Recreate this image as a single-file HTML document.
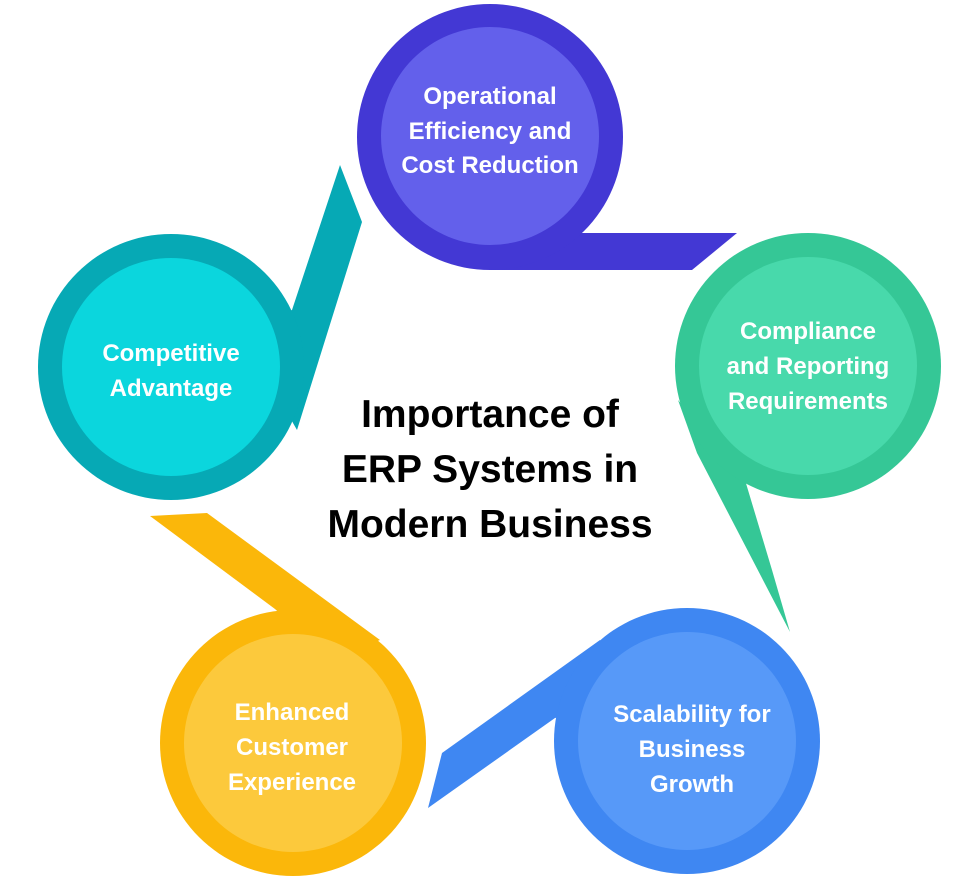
<!DOCTYPE html>
<html><head><meta charset="utf-8"><style>
html,body{margin:0;padding:0;background:#fff;}
svg{display:block;}
text{font-family:"Liberation Sans",sans-serif;font-weight:bold;text-anchor:middle;}
.w{fill:#fff;font-size:24px;}
.t{fill:#000;font-size:39px;}
</style></head><body>
<svg width="960" height="880" viewBox="0 0 960 880" xmlns="http://www.w3.org/2000/svg">
<!-- tails -->
<polygon points="490,233 737,233 692,270 490,270" fill="#4338d4"/>
<polygon points="340,165 362,222 297,430 240,330 292,310" fill="#06a9b5"/>
<polygon points="678,400 697,453 790,632 772,570 745,480" fill="#35c796"/>
<polygon points="428,808 442,753 600,640 650,700 555,718" fill="#3f87f2"/>
<polygon points="150,516 207,513 380,640 330,660 275,609" fill="#fbb70a"/>
<!-- circles -->
<circle cx="490" cy="137" r="133" fill="#4338d4"/><circle cx="490" cy="136" r="109" fill="#6360eb"/>
<circle cx="808" cy="366" r="133" fill="#35c796"/><circle cx="808" cy="366" r="109" fill="#48d9ab"/>
<circle cx="687" cy="741" r="133" fill="#3f87f2"/><circle cx="687" cy="741" r="109" fill="#5799f8"/>
<circle cx="293" cy="743" r="133" fill="#fbb70a"/><circle cx="293" cy="743" r="109" fill="#fcc93c"/>
<circle cx="171" cy="367" r="133" fill="#06a9b5"/><circle cx="171" cy="367" r="109" fill="#0bd6dd"/>
<!-- labels -->
<text class="w" x="490" y="104">Operational</text>
<text class="w" x="490" y="139">Efficiency and</text>
<text class="w" x="490" y="173">Cost Reduction</text>
<text class="w" x="808" y="339">Compliance</text>
<text class="w" x="808" y="374">and Reporting</text>
<text class="w" x="808" y="409">Requirements</text>
<text class="w" x="171" y="361">Competitive</text>
<text class="w" x="171" y="396">Advantage</text>
<text class="w" x="692" y="722">Scalability for</text>
<text class="w" x="692" y="757">Business</text>
<text class="w" x="692" y="792">Growth</text>
<text class="w" x="292" y="720">Enhanced</text>
<text class="w" x="292" y="755">Customer</text>
<text class="w" x="292" y="790">Experience</text>
<text class="t" x="490" y="427">Importance of</text>
<text class="t" x="490" y="482">ERP Systems in</text>
<text class="t" x="490" y="537">Modern Business</text>
</svg>
</body></html>
